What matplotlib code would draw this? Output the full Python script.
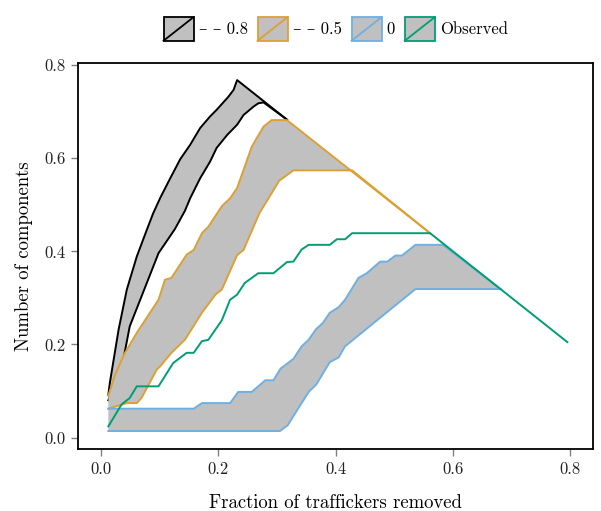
#!/usr/bin/env python3
"""
Components left after removing traffickers: simulated bands vs observed.
"""
import matplotlib

matplotlib.use("Agg")
import matplotlib.pyplot as plt
from matplotlib.legend_handler import HandlerBase
from matplotlib.lines import Line2D
from matplotlib.patches import Patch, Rectangle

# --- data ---
black_hi_x = [0.0125, 0.015, 0.030, 0.044, 0.061, 0.078, 0.089, 0.101, 0.118, 0.135, 0.152,
              0.169, 0.186, 0.197, 0.217, 0.226, 0.232, 0.317]
black_hi_y = [0.092, 0.117, 0.232, 0.318, 0.389, 0.446, 0.482, 0.515, 0.557, 0.598, 0.629,
              0.665, 0.690, 0.704, 0.732, 0.747, 0.768, 0.683]
black_lo_x = [0.0125, 0.025, 0.038, 0.049, 0.069, 0.098, 0.126, 0.143, 0.152, 0.169, 0.186,
              0.197, 0.215, 0.232, 0.243, 0.260, 0.268, 0.277, 0.317]
black_lo_y = [0.080, 0.120, 0.167, 0.239, 0.303, 0.396, 0.448, 0.487, 0.514, 0.557, 0.593,
              0.622, 0.650, 0.672, 0.693, 0.711, 0.718, 0.720, 0.683]

orange_hi_x = [0.0125, 0.024, 0.040, 0.061, 0.098, 0.109, 0.120, 0.146, 0.158, 0.172, 0.183,
               0.206, 0.220, 0.232, 0.243, 0.257, 0.277, 0.291, 0.317, 0.561]
orange_hi_y = [0.090, 0.135, 0.180, 0.225, 0.296, 0.339, 0.343, 0.393, 0.403, 0.439, 0.453,
               0.497, 0.514, 0.536, 0.575, 0.625, 0.668, 0.682, 0.682, 0.439]
orange_lo_x = [0.0125, 0.044, 0.061, 0.069, 0.095, 0.101, 0.120, 0.143, 0.172, 0.195, 0.206,
               0.232, 0.243, 0.270, 0.304, 0.328, 0.428, 0.561]
orange_lo_y = [0.062, 0.074, 0.074, 0.085, 0.146, 0.153, 0.182, 0.210, 0.268, 0.307, 0.318,
               0.392, 0.403, 0.482, 0.552, 0.574, 0.574, 0.439]

blue_hi_x = [0.0125, 0.158, 0.172, 0.220, 0.234, 0.257, 0.280, 0.294, 0.306, 0.328, 0.342,
             0.354, 0.366, 0.378, 0.390, 0.405, 0.416, 0.439, 0.453, 0.476, 0.488, 0.502,
             0.513, 0.536, 0.583, 0.681]
blue_hi_y = [0.062, 0.062, 0.074, 0.074, 0.098, 0.098, 0.123, 0.123, 0.148, 0.169, 0.196,
             0.210, 0.232, 0.246, 0.268, 0.280, 0.296, 0.343, 0.353, 0.378, 0.378, 0.391,
             0.391, 0.414, 0.414, 0.319]
blue_lo_x = [0.0125, 0.305, 0.318, 0.354, 0.367, 0.390, 0.405, 0.416, 0.536, 0.681]
blue_lo_y = [0.014, 0.014, 0.026, 0.098, 0.114, 0.162, 0.172, 0.196, 0.319, 0.319]

obs_x = [0.0125, 0.035, 0.049, 0.061, 0.098, 0.123, 0.146, 0.158, 0.172, 0.183, 0.206, 0.220,
         0.232, 0.245, 0.268, 0.294, 0.317, 0.328, 0.342, 0.354, 0.390, 0.402, 0.416, 0.428,
         0.561, 0.795]
obs_y = [0.024, 0.071, 0.085, 0.110, 0.110, 0.160, 0.182, 0.182, 0.207, 0.210, 0.252, 0.296,
         0.307, 0.332, 0.353, 0.353, 0.377, 0.378, 0.404, 0.414, 0.414, 0.426, 0.426, 0.439,
         0.439, 0.205]

labels = ["\u2013 \u2013 0.8", "\u2013 \u2013 0.5", "0", "Observed"]

FILL = "#c0c0c0"
C_BLACK = "#000000"
C_ORANGE = "#DDA033"
C_BLUE = "#6fb0e4"
C_GREEN = "#009E73"


class DiagBoxHandler(HandlerBase):
    def create_artists(self, legend, orig_handle, xdescent, ydescent, width, height, fontsize, trans):
        color = orig_handle.get_edgecolor()
        x0, y0 = -xdescent, -ydescent
        rect = Rectangle((x0, y0), width, height, facecolor=FILL, edgecolor=color, lw=1.3,
                         transform=trans)
        line = Line2D([x0, x0 + width], [y0, y0 + height], color=color, lw=1.3, transform=trans)
        return [rect, line]


def band(ax, hx, hy, lx, ly, color, z):
    # later bands sit on top of earlier ones, fill included
    ax.fill(list(hx) + list(lx[::-1]), list(hy) + list(ly[::-1]), facecolor=FILL,
            edgecolor="none", zorder=z)
    ax.plot(hx, hy, color=color, lw=1.4, zorder=z + 0.5)
    ax.plot(lx, ly, color=color, lw=1.4, zorder=z + 0.5)


def main() -> None:
    plt.rcParams["font.family"] = ["cmr10", "DejaVu Serif"]
    plt.rcParams["axes.formatter.use_mathtext"] = True
    plt.rcParams["mathtext.fontset"] = "cm"

    fig = plt.figure(figsize=(6.01, 5.11), dpi=100)
    ax = fig.add_axes([0.130, 0.121, 0.857, 0.756])

    band(ax, black_hi_x, black_hi_y, black_lo_x, black_lo_y, C_BLACK, 1)
    band(ax, orange_hi_x, orange_hi_y, orange_lo_x, orange_lo_y, C_ORANGE, 2)
    band(ax, blue_hi_x, blue_hi_y, blue_lo_x, blue_lo_y, C_BLUE, 3)
    ax.plot(obs_x, obs_y, color=C_GREEN, lw=1.4, zorder=4)

    ax.set_xlim(-0.039, 0.839)
    ax.set_ylim(-0.025, 0.805)
    ax.set_xticks([0.0, 0.2, 0.4, 0.6, 0.8])
    ax.set_yticks([0.0, 0.2, 0.4, 0.6, 0.8])
    ax.set_xticklabels(["0.0", "0.2", "0.4", "0.6", "0.8"])
    ax.set_yticklabels(["0.0", "0.2", "0.4", "0.6", "0.8"])
    ax.tick_params(axis="both", labelsize=12, length=5, width=1.0, color="#808080",
                   labelcolor="#222222", pad=4)
    for sp in ax.spines.values():
        sp.set_linewidth(1.3)
        sp.set_zorder(5)
    ax.set_xlabel("Fraction of traffickers removed", fontsize=13.5, labelpad=12)
    ax.set_ylabel("Number of components", fontsize=13.5, labelpad=8)

    handles = [Patch(edgecolor=c) for c in (C_BLACK, C_ORANGE, C_BLUE, C_GREEN)]
    ax.legend(handles, labels, handler_map={Patch: DiagBoxHandler()}, loc="lower center",
              bbox_to_anchor=(0.5, 1.04), borderaxespad=0, ncol=4, frameon=False, fontsize=12,
              handlelength=1.8, handleheight=1.8, handletextpad=0.3, columnspacing=0.6)

    fig.savefig("out.png", dpi=100)
    plt.close(fig)


if __name__ == "__main__":
    main()
